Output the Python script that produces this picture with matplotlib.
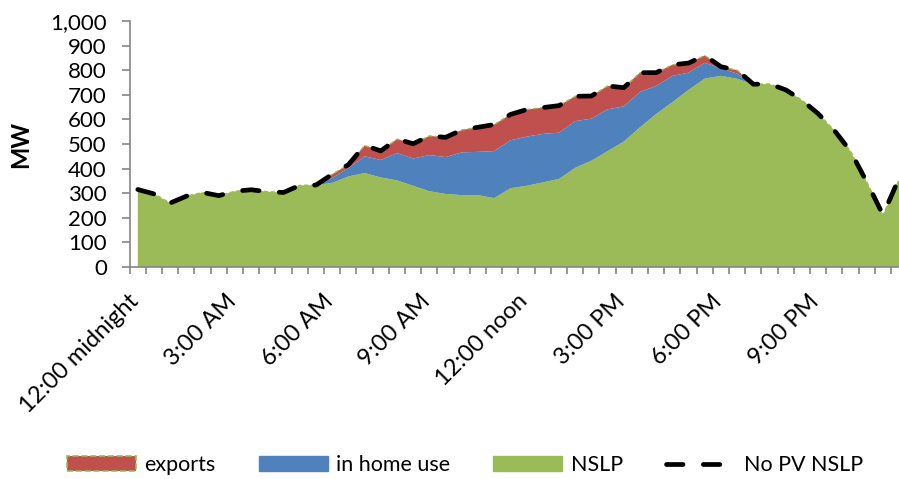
import numpy as np
import matplotlib
matplotlib.use("Agg")
import matplotlib.pyplot as plt
from matplotlib.patches import Patch
from matplotlib.lines import Line2D
from matplotlib.ticker import FuncFormatter
import matplotlib.transforms as mtransforms

plt.rcParams['font.family'] = ['Lato', 'DejaVu Sans']

# Half-hourly load profile (MW), 48 intervals starting at midnight
nslp = [315, 297, 260, 288, 303, 290, 308, 314, 306, 303, 332, 333,
        342, 368, 382, 364, 352, 330, 308, 297, 292, 292, 280, 320,
        330, 344, 358, 403, 432, 471, 510, 568, 622, 670, 720, 766,
        777, 765, 743, 744, 720, 678, 623, 555, 470, 345, 212, 355]
in_home_use = [0, 0, 0, 0, 0, 0, 0, 0, 0, 0, 0, 0,
               20, 34, 68, 71, 111, 111, 147, 150, 174, 176, 191, 195,
               200, 197, 188, 190, 171, 170, 143, 144, 114, 107, 70, 64,
               31, 21, 0, 0, 0, 0, 0, 0, 0, 0, 0, 0]
exports = [0, 0, 0, 0, 0, 0, 0, 0, 0, 0, 0, 0,
           15, 14, 44, 37, 57, 60, 78, 80, 91, 100, 108, 105,
           110, 107, 110, 101, 92, 95, 76, 78, 54, 45, 39, 30,
           6, 14, 0, 0, 0, 0, 0, 0, 0, 0, 0, 0]
no_pv_nslp = [315, 297, 260, 288, 303, 290, 308, 314, 306, 303, 332, 333,
              377, 416, 494, 472, 520, 501, 533, 527, 557, 568, 579, 620,
              640, 648, 656, 694, 695, 736, 729, 790, 790, 822, 829, 860,
              814, 800, 743, 744, 720, 678, 623, 555, 470, 345, 212, 362]

tick_labels = ["12:00 midnight", "3:00 AM", "6:00 AM", "9:00 AM",
               "12:00 noon", "3:00 PM", "6:00 PM", "9:00 PM"]

GREEN = "#9BBB59"
BLUE = "#4F81BD"
RED = "#C0504D"
AXIS = "#868686"
DASH = (3.5, 4.3)

x = np.arange(len(nslp))
stack_top = np.array(nslp) + np.array(in_home_use) + np.array(exports)

W, H = 899, 479
fig = plt.figure(figsize=(W / 100, H / 100), dpi=100)
left, right, bottom, top = 129.7, 907.3, 267.0, 21.0
ax = fig.add_axes([left / W, (H - bottom) / H, (right - left) / W, (bottom - top) / H])

ax.stackplot(x, nslp, in_home_use, exports, colors=[GREEN, BLUE, RED], linewidth=0)
ax.plot(x, stack_top, color=GREEN, lw=1.0, ls=(0, (3, 2)))
ax.plot(x, no_pv_nslp, color="black", lw=3.4, dashes=DASH,
        dash_capstyle="round", solid_capstyle="round")

ax.set_xlim(-0.5, len(x) - 0.5)
ax.set_ylim(0, 1000)

# axes styling
for s in ["top", "right"]:
    ax.spines[s].set_visible(False)
for s in ["left", "bottom"]:
    ax.spines[s].set_color(AXIS)
    ax.spines[s].set_linewidth(1.2)

ax.set_yticks(np.arange(0, 1001, 100))
ax.yaxis.set_major_formatter(FuncFormatter(lambda v, p: f"{int(v):,}"))
ax.tick_params(axis="y", direction="out", length=5.5, width=1.2, color=AXIS,
               labelsize=16, pad=11)

ax.set_xticks(np.arange(-0.5, len(x), 1), minor=True)
ax.set_xticks(np.arange(0, len(x), 6))
ax.set_xticklabels(tick_labels, rotation=45, ha="right", va="top")
ax.tick_params(axis="x", which="major", length=0, labelsize=17, pad=17)
ax.tick_params(axis="x", which="minor", direction="out", length=5, width=1.2, color=AXIS)
offset = mtransforms.ScaledTranslation(5 / 100, 0, fig.dpi_scale_trans)
for lbl in ax.get_xticklabels():
    lbl.set_transform(lbl.get_transform() + offset)

ax.set_ylabel("MW", fontsize=17, fontweight="bold", labelpad=13)

handles = [
    Patch(facecolor=RED, edgecolor=GREEN, linestyle="--", linewidth=1.2),
    Patch(facecolor=BLUE, edgecolor=BLUE),
    Patch(facecolor=GREEN, edgecolor=GREEN),
    Line2D([0], [0], color="black", lw=3.4, dashes=DASH, dash_capstyle="round"),
]
labels = ["exports", "in home use", "NSLP", "No PV NSLP"]
fig.legend(handles, labels, loc="center", bbox_to_anchor=(0.517, 0.029), ncol=4,
           frameon=False, fontsize=15.5, handlelength=3.2, handleheight=0.7,
           handletextpad=0.4, columnspacing=2.0)

fig.savefig("out.png", dpi=100)
